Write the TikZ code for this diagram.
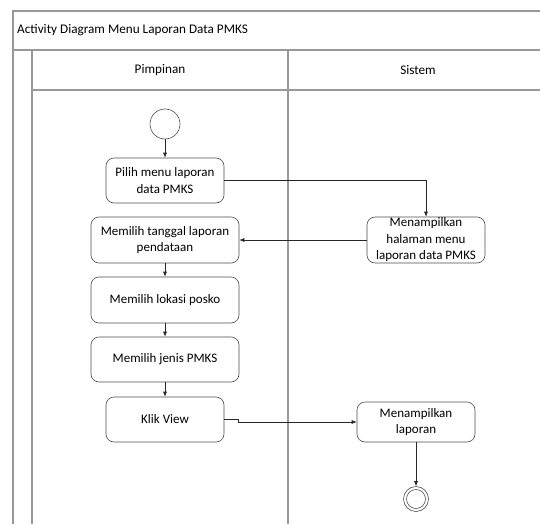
\documentclass[tikz,border=0pt]{standalone}
\usepackage{fontspec}
\setmainfont{Carlito}
\usetikzlibrary{arrows.meta}
\begin{document}
\begin{tikzpicture}[x=1pt,y=-1pt,
  frame/.style={draw=black!40,line width=1.2pt},
  act/.style={draw=black!70,line width=0.6pt,rounded corners=8pt,align=center,
    font=\fontsize{13}{16.5}\selectfont,inner sep=0pt},
  flow/.style={draw=black!85,line width=0.6pt,-{Latex[length=5pt,width=4pt]}},
  lbl/.style={font=\fontsize{13.2}{15}\selectfont}]
\useasboundingbox (0,0) rectangle (540,524);
% swimlane frame
\draw[frame] (13,524) -- (13,11) -- (540,11);
\draw[frame] (13,50) -- (540,50);
\draw[frame] (32,524) -- (32,50);
\draw[frame] (32,90) -- (540,90);
\draw[frame] (288,50) -- (288,524);
\node[lbl,anchor=west,inner sep=0pt] (title) at (17,30) {Activity Diagram Menu Laporan Data PMKS};
\node[lbl] (lane1) at (160,70) {Pimpinan};
\node[lbl] (lane2) at (418,70) {Sistem};
% activities
\node[circle,draw=black!70,line width=0.6pt,minimum size=30pt,inner sep=0pt] (start) at (165,124) {};
\node[act,minimum width=118pt,minimum height=45pt] (pilih) at (165,180.5) {Pilih menu laporan\\data PMKS};
\node[act,minimum width=148pt,minimum height=46pt] (tanggal) at (165,240) {Memilih tanggal laporan\\pendataan};
\node[act,minimum width=148pt,minimum height=46pt] (lokasi) at (165,300) {Memilih lokasi posko};
\node[act,minimum width=148pt,minimum height=45pt] (jenis) at (165,359.5) {Memilih jenis PMKS};
\node[act,minimum width=118pt,minimum height=45pt] (klik) at (165,419.5) {Klik View};
\node[act,minimum width=118pt,minimum height=46pt] (halaman) at (426,240) {Menampilkan\\halaman menu\\laporan data PMKS};
\node[act,minimum width=118pt,minimum height=40pt] (laporan) at (416,422) {Menampilkan\\laporan};
\node[circle,draw=black!70,line width=0.6pt,minimum size=25pt,inner sep=0pt] (end) at (416,499) {};
\node[circle,draw=black!70,line width=0.6pt,minimum size=19pt,inner sep=0pt] (endin) at (end) {};
% control flows
\draw[flow] (start) -- (pilih);
\draw[flow] (pilih.east) -| (halaman.north);
\draw[flow] (halaman.west) -- (tanggal.east);
\draw[flow] (tanggal) -- (lokasi);
\draw[flow] (lokasi) -- (jenis);
\draw[flow] (jenis) -- (klik);
\draw[flow] (klik.east) -- ++(14,0) |- (laporan.west);
\draw[flow] (laporan) -- (end);
\end{tikzpicture}
\end{document}
